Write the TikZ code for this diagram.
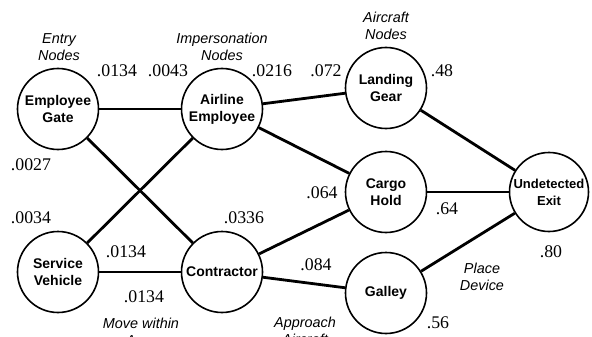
\documentclass[tikz,border=0pt]{standalone}
\usepackage{fontspec}
\setmainfont{Liberation Serif}
\setsansfont{Liberation Sans}
\begin{document}
\begin{tikzpicture}[x=1pt, y=-1pt,
	station/.style={draw, circle, line width=1.6pt, minimum size=81pt, inner sep=0pt, align=center,
		font=\sffamily\bfseries\fontsize{14}{17}\selectfont},
	link/.style={line width=2.8pt},
	prob/.style={inner sep=0pt, font=\fontsize{17.8}{20}\selectfont},
	phase/.style={inner sep=0pt, align=center, font=\sffamily\itshape\fontsize{14.4}{17.5}\selectfont}]
	\useasboundingbox (0,0) rectangle (592,337);
	\clip (0,0) rectangle (592,337);
	% stations
	\node[station] (gate) at (58,109) {Employee\\Gate};
	\node[station] (airline) at (222,109) {Airline\\Employee};
	\node[station] (vehicle) at (58,272) {Service\\Vehicle};
	\node[station] (contractor) at (222,272) {Contractor};
	\node[station] (gear) at (386,88) {Landing\\Gear};
	\node[station] (cargo) at (386,192) {Cargo\\Hold};
	\node[station] (galley) at (386,293) {Galley};
	\node[station, minimum size=79pt, font=\sffamily\bfseries\fontsize{13}{17}\selectfont] (exit) at (549,192) {Undetected\\Exit};
	% links
	\draw[link] (gate) -- (airline);
	\draw[link] (gate) -- (contractor);
	\draw[link] (vehicle) -- (airline);
	\draw[link] (vehicle) -- (contractor);
	\draw[link] (airline) -- (gear);
	\draw[link] (airline) -- (cargo);
	\draw[link] (contractor) -- (cargo);
	\draw[link] (contractor) -- (galley);
	\draw[link] (gear) -- (exit);
	\draw[link] (cargo) -- (exit);
	\draw[link] (galley) -- (exit);
	% phases
	\node[phase] (entry) at (59,47) {Entry\\Nodes};
	\node[phase] (imperson) at (222,47) {Impersonation\\Nodes};
	\node[phase] (aircraft) at (386,26) {Aircraft\\Nodes};
	\node[phase] (place) at (482,277) {Place\\Device};
	\node[phase] (move) at (141,332) {Move within\\Area};
	\node[phase] (approach) at (305,331) {Approach\\Aircraft};
	% probabilities
	\node[prob] (p1) at (117,71) {.0134};
	\node[prob] (p2) at (168,71) {.0043};
	\node[prob] (p3) at (272,71) {.0216};
	\node[prob] (p4) at (326,71) {.072};
	\node[prob] (p5) at (442,71) {.48};
	\node[prob] (p6) at (31,165) {.0027};
	\node[prob] (p7) at (31,218) {.0034};
	\node[prob] (p8) at (126,252) {.0134};
	\node[prob] (p9) at (144,297) {.0134};
	\node[prob] (p10) at (244,218) {.0336};
	\node[prob] (p11) at (322,193) {.064};
	\node[prob] (p12) at (447,209) {.64};
	\node[prob] (p13) at (551,252) {.80};
	\node[prob] (p14) at (316,265) {.084};
	\node[prob] (p15) at (438,323) {.56};
\end{tikzpicture}
\end{document}
